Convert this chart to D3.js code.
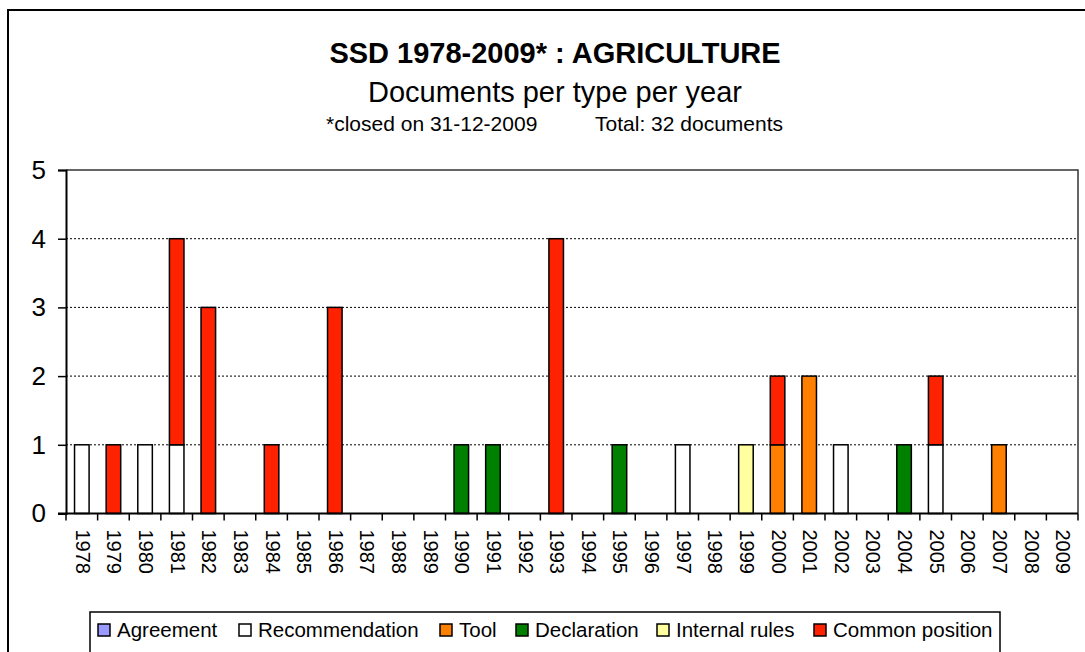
<!DOCTYPE html>
<html>
<head>
<meta charset="utf-8">
<script src="https://cdn.jsdelivr.net/npm/d3@7"></script>
<style>
  body { margin: 0; background: #fff; }
  text { font-family: "Liberation Sans", Arial, sans-serif; }
</style>
</head>
<body>
<script>
var canvasWidth = 1085;
var canvasHeight = 652;

// data
var years = d3.range(1978, 2010).map(String);
var types = ['Agreement', 'Recommendation', 'Tool', 'Declaration', 'Internal rules', 'Common position'];
var colors = ['#9999ff', '#ffffff', '#ff8000', '#008000', '#ffffa0', '#ff2200'];

var agreement      = [0,0,0,0,0,0,0,0,0,0,0,0,0,0,0,0,0,0,0,0,0,0,0,0,0,0,0,0,0,0,0,0];
var recommendation = [1,0,1,1,0,0,0,0,0,0,0,0,0,0,0,0,0,0,0,1,0,0,0,0,1,0,0,1,0,0,0,0];
var tool           = [0,0,0,0,0,0,0,0,0,0,0,0,0,0,0,0,0,0,0,0,0,0,1,2,0,0,0,0,0,1,0,0];
var declaration    = [0,0,0,0,0,0,0,0,0,0,0,0,1,1,0,0,0,1,0,0,0,0,0,0,0,0,1,0,0,0,0,0];
var internalRules  = [0,0,0,0,0,0,0,0,0,0,0,0,0,0,0,0,0,0,0,0,0,1,0,0,0,0,0,0,0,0,0,0];
var commonPosition = [0,1,0,3,3,0,1,0,3,0,0,0,0,0,0,4,0,0,0,0,0,0,1,0,0,0,0,1,0,0,0,0];
var yTicks = [0, 1, 2, 3, 4, 5];

var series = [agreement, recommendation, tool, declaration, internalRules, commonPosition];
var table = years.map(function (y, i) {
    var row = { year: y };
    types.forEach(function (t, k) { row[t] = series[k][i]; });
    return row;
});

var svg = d3.select('body')
    .append('svg')
    .attr('width', canvasWidth)
    .attr('height', canvasHeight);

// outer frame
svg.append('rect')
    .attr('x', 8).attr('y', 10)
    .attr('width', 1100).attr('height', 700)
    .attr('fill', 'none')
    .attr('stroke', '#000')
    .attr('stroke-width', 2);

// titles
svg.append('text')
    .attr('x', 555).attr('y', 63)
    .attr('text-anchor', 'middle')
    .attr('font-size', '29px')
    .attr('font-weight', 'bold')
    .text('SSD 1978-2009* : AGRICULTURE');

svg.append('text')
    .attr('x', 555).attr('y', 102)
    .attr('text-anchor', 'middle')
    .attr('font-size', '29px')
    .text('Documents per type per year');

svg.append('text')
    .attr('x', 326).attr('y', 131)
    .attr('font-size', '21px')
    .text('*closed on 31-12-2009');

svg.append('text')
    .attr('x', 783).attr('y', 131)
    .attr('text-anchor', 'end')
    .attr('font-size', '21px')
    .text('Total: 32 documents');

var plotLeft = 66, plotRight = 1078, plotTop = 170, plotBottom = 513.5;

var xScale = d3.scaleBand().domain(years).range([plotLeft, plotRight]);
var yScale = d3.scaleLinear().domain([0, 5]).range([plotBottom, plotTop]);

// gridlines
svg.append('g')
    .selectAll('line')
    .data(yTicks.filter(function (d) { return d > 0 && d < 5; }))
    .enter()
    .append('line')
    .attr('x1', plotLeft).attr('x2', plotRight)
    .attr('y1', function (d) { return yScale(d); })
    .attr('y2', function (d) { return yScale(d); })
    .attr('stroke', '#000')
    .attr('stroke-width', 1)
    .attr('stroke-dasharray', '2,2');

// plot frame top and right
svg.append('path')
    .attr('d', 'M' + plotLeft + ',' + plotTop + 'H' + plotRight + 'V' + plotBottom)
    .attr('fill', 'none')
    .attr('stroke', '#333')
    .attr('stroke-width', 1.5);

// stacked bars
var stacked = d3.stack().keys(types)(table);
var barW = xScale.bandwidth() * 0.46;

svg.append('g')
    .selectAll('g')
    .data(stacked)
    .enter()
    .append('g')
    .attr('fill', function (d, i) { return colors[i]; })
    .selectAll('rect')
    .data(function (d) { return d.filter(function (p) { return p[1] > p[0]; }); })
    .enter()
    .append('rect')
    .attr('x', function (d) { return xScale(d.data.year) + (xScale.bandwidth() - barW) / 2; })
    .attr('width', barW)
    .attr('y', function (d) { return yScale(d[1]); })
    .attr('height', function (d) { return yScale(d[0]) - yScale(d[1]); })
    .attr('stroke', '#000')
    .attr('stroke-width', 1.5);

// y axis
var yAxis = svg.append('g')
    .attr('transform', 'translate(' + plotLeft + ',0)')
    .call(d3.axisLeft(yScale).tickValues(yTicks).tickSize(8).tickPadding(12).tickFormat(d3.format('d')));
yAxis.select('.domain').attr('stroke-width', 2);
yAxis.selectAll('.tick line').attr('stroke-width', 1.5);
yAxis.selectAll('text')
    .attr('font-family', '"Liberation Sans", Arial, sans-serif')
    .attr('font-size', '26px')
    .attr('fill', '#000');

// x axis with ticks at band edges
var xAxis = svg.append('g').attr('transform', 'translate(0,' + plotBottom + ')');
xAxis.append('line')
    .attr('x1', plotLeft - 8).attr('x2', plotRight)
    .attr('stroke', '#000').attr('stroke-width', 2);
xAxis.selectAll('.edge')
    .data(years.concat(['end']))
    .enter()
    .append('line')
    .attr('class', 'edge')
    .attr('x1', function (d, i) { return plotLeft + i * xScale.step(); })
    .attr('x2', function (d, i) { return plotLeft + i * xScale.step(); })
    .attr('y1', 0).attr('y2', 7)
    .attr('stroke', '#000').attr('stroke-width', 1.5);
xAxis.selectAll('.lbl')
    .data(years)
    .enter()
    .append('text')
    .attr('class', 'lbl')
    .attr('transform', function (d) {
        return 'translate(' + (xScale(d) + xScale.bandwidth() / 2 + 1) + ',16) rotate(90)';
    })
    .attr('dy', '0.35em')
    .attr('font-size', '20px')
    .text(function (d) { return d; });

// legend
var legend = svg.append('g');
legend.append('rect')
    .attr('x', 90).attr('y', 612)
    .attr('width', 910).attr('height', 80)
    .attr('fill', '#fff')
    .attr('stroke', '#000')
    .attr('stroke-width', 1.5);
var legendX = [98, 239, 440, 516, 657, 814];
var item = legend.selectAll('.item')
    .data(types)
    .enter()
    .append('g')
    .attr('transform', function (d, i) { return 'translate(' + legendX[i] + ',624)'; });
item.append('rect')
    .attr('width', 12).attr('height', 12)
    .attr('fill', function (d, i) { return colors[i]; })
    .attr('stroke', '#000')
    .attr('stroke-width', 1.5);
item.append('text')
    .attr('x', 19).attr('y', 13)
    .attr('font-size', '20.5px')
    .text(function (d) { return d; });
</script>
</body>
</html>
